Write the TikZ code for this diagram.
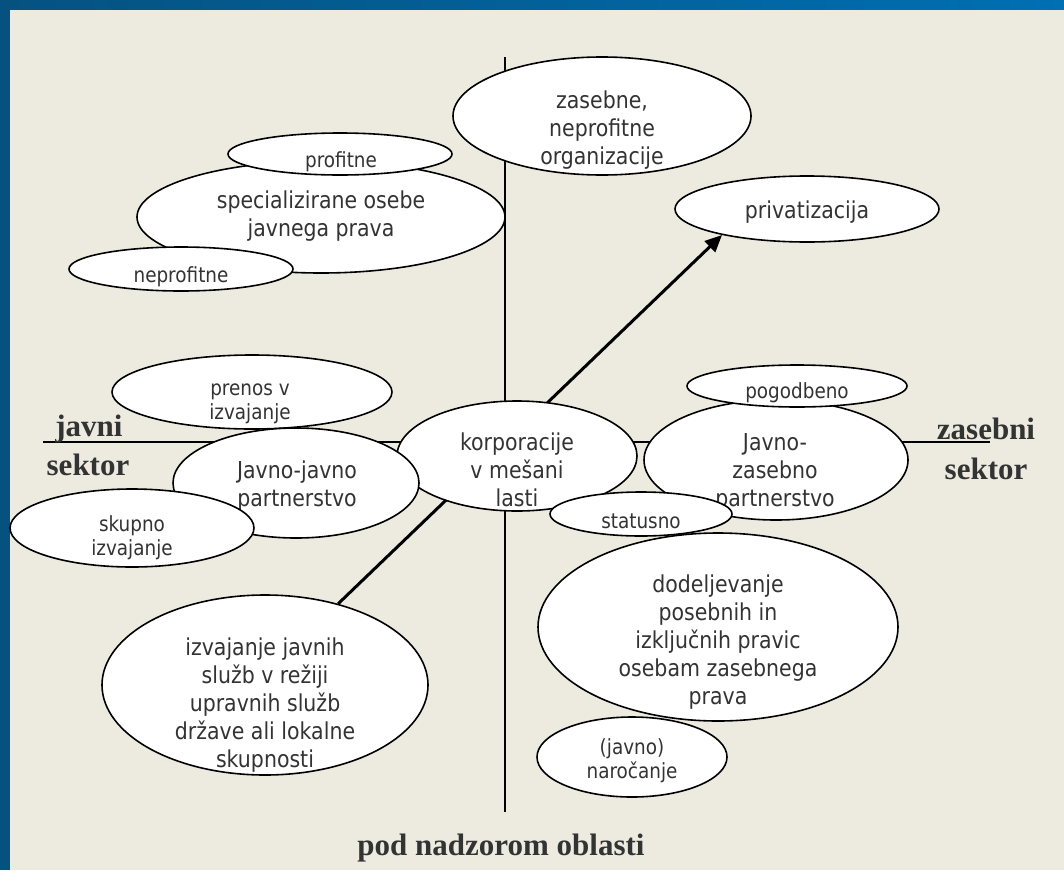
\documentclass[tikz,border=0pt]{standalone}
\usepackage{fontspec}
\setmainfont{DejaVu Sans}
\newfontfamily\tfont{DejaVu Sans}[FakeStretch=0.88]
\newfontfamily\bfont{Liberation Serif}
\usetikzlibrary{arrows.meta,shapes.geometric}
\definecolor{bg}{RGB}{237,235,224}
\definecolor{blueL}{RGB}{5,82,128}
\definecolor{blueR}{RGB}{0,111,179}
\definecolor{txt}{RGB}{51,51,51}
\begin{document}
\begin{tikzpicture}[x=1pt,y=-1pt,
  ell/.style={ellipse,draw=black,line width=1.6pt,fill=white,inner sep=0pt},
  big/.style={font=\tfont\fontsize{23.3}{28}\selectfont,text=txt,align=center,inner sep=0pt},
  small/.style={font=\tfont\fontsize{20.9}{24}\selectfont,text=txt,align=center,inner sep=0pt},
  lab/.style={font=\bfont\bfseries\fontsize{31}{36}\selectfont,text=txt,inner sep=0pt,anchor=base},
  axis/.style={line width=2pt,draw=black},
  arr/.style={line width=3pt,draw=black,-{Triangle[length=17pt,width=15pt]}}]
\useasboundingbox (0,0) rectangle (1064,870);
% background
\fill[bg] (0,0) rectangle (1064,870);
\fill[blueL] (0,0) rectangle (10,870);
\shade[left color=blueL,right color=blueR] (0,0) rectangle (1064,9);
% axes
\coordinate (vt) at (505,57);
\coordinate (vb) at (505,812);
\coordinate (hl) at (43,442);
\coordinate (hr) at (990,442);
\draw[axis] (vt) -- (vb);
\draw[axis] (hl) -- (hr);
% arrow ends
\node[ell,minimum width=326pt,minimum height=180pt] (izv) at (265,685) {};
\node[big] (izvT) at (265,705) {izvajanje javnih\\služb v režiji\\upravnih služb\\države ali lokalne\\skupnosti};
\node[ell,minimum width=264pt,minimum height=66pt] (priv) at (807,209) {};
\node[big] (privT) at (807,212) {privatizacija};
\draw[arr] (izv.48) -- (priv.197);
% other ellipses
\node[ell,minimum width=368pt,minimum height=112pt] (spec) at (321,217) {};
\node[big] (specT) at (321,216) {specializirane osebe\\javnega prava};
\node[ell,minimum width=224pt,minimum height=42pt] (prof) at (340,154) {};
\node[small] (profT) at (341,162) {profitne};
\node[ell,minimum width=224pt,minimum height=44pt] (nepr) at (181,269) {};
\node[small] (neprT) at (181,277) {neprofitne};
\node[ell,minimum width=298pt,minimum height=118pt] (zas) at (602,116) {};
\node[big] (zasT) at (602,130) {zasebne,\\neprofitne\\organizacije};
\node[ell,minimum width=280pt,minimum height=74pt] (pren) at (252,392) {};
\node[small] (prenT) at (250,404) {prenos v\\izvajanje};
\node[ell,minimum width=240pt,minimum height=110pt] (korp) at (517,456) {};
\node[big] (korpT) at (517,470) {korporacije\\v mešani\\lasti};
\node[ell,minimum width=246pt,minimum height=110pt] (jj) at (296,483) {};
\node[big] (jjT) at (297,486) {Javno-javno\\partnerstvo};
\node[ell,minimum width=244pt,minimum height=78pt] (skup) at (132,528) {};
\node[small] (skupT) at (132,538) {skupno\\izvajanje};
\node[ell,minimum width=264pt,minimum height=120pt] (jz) at (776,460) {};
\node[big] (jzT) at (775,472) {Javno-\\zasebno\\partnerstvo};
\node[ell,minimum width=220pt,minimum height=42pt] (pog) at (797,386) {};
\node[small] (pogT) at (797,393) {pogodbeno};
\node[ell,minimum width=182pt,minimum height=44pt] (stat) at (641,514) {};
\node[small] (statT) at (641,521) {statusno};
\node[ell,minimum width=360pt,minimum height=188pt] (dod) at (718,627) {};
\node[big] (dodT) at (718,642) {dodeljevanje\\posebnih in\\izključnih pravic\\osebam zasebnega\\prava};
\node[ell,minimum width=190pt,minimum height=80pt] (nar) at (632,757) {};
\node[small] (narT) at (632,761) {(javno)\\naročanje};
% labels
\node[lab] (jv) at (89,436) {javni};
\node[lab] (js) at (88,475) {sektor};
\node[lab] (zv) at (986,439) {zasebni};
\node[lab] (zs) at (986,479) {sektor};
\node[lab] (pod) at (501,855) {pod nadzorom oblasti};
\end{tikzpicture}
\end{document}
